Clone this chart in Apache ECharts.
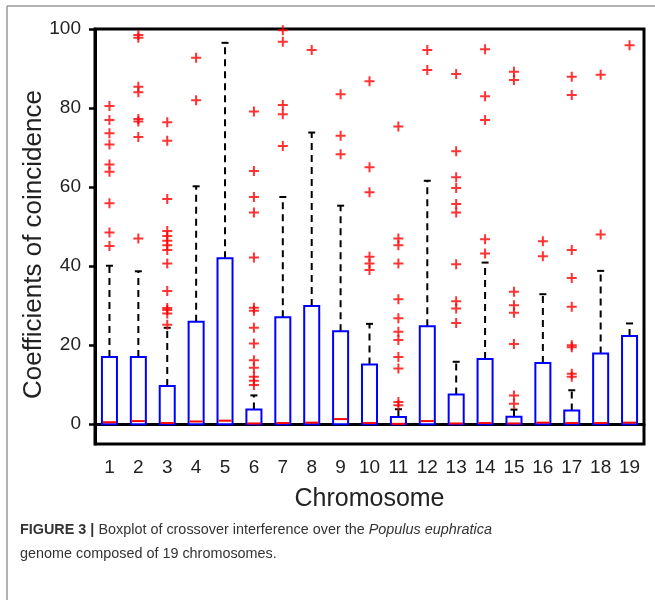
<!DOCTYPE html>
<html>
<head>
<meta charset="utf-8">
<style>
  html, body { margin: 0; padding: 0; background: #fff; }
  #chart-container { width: 655px; height: 600px; }
</style>
<script src="https://cdn.jsdelivr.net/npm/echarts@6/dist/echarts.min.js"></script>
</head>
<body>
<div id="chart-container"></div>
<script>
var dom = document.getElementById("chart-container");
var myChart = echarts.init(dom, null, { renderer: "canvas" });

const chromosomes = ["1", "2", "3", "4", "5", "6", "7", "8", "9", "10",
  "11", "12", "13", "14", "15", "16", "17", "18", "19"];
const yTicks = [0, 20, 40, 60, 80, 100];

const lowWhisker = [0, 0, 0, 0, 0, 0, 0, 0, 0, 0, 0, 0, 0, 0, 0, 0, 0, 0, 0];
const q1 = [0, 0, 0, 0, 0, 0, 0, 0, 0, 0, 0, 0, 0, 0, 0, 0, 0, 0, 0];
const medians = [0.5, 0.8, 0.3, 0.7, 0.9, 0.2, 0.3, 0.4, 1.3, 0.3,
  0.1, 0.8, 0.2, 0.3, 0.2, 0.4, 0.3, 0.3, 0.4];
const q3 = [17.0, 17.0, 9.7, 25.9, 42.0, 3.7, 27.1, 29.9, 23.5, 15.1,
  1.8, 24.8, 7.5, 16.5, 1.9, 15.5, 3.5, 17.9, 22.3];
const highWhisker = [40.1, 38.7, 24.4, 60.2, 96.5, 7.3, 57.5, 73.8, 55.3, 25.4,
  3.8, 61.6, 15.8, 40.9, 3.7, 32.9, 8.6, 38.8, 25.5];

const outliers = [
  [80.5, 77.0, 73.6, 70.8, 65.7, 63.9, 55.9, 48.5, 45.1],
  [98.5, 97.8, 85.4, 84.0, 77.2, 76.6, 72.7, 47.0],
  [76.4, 71.7, 57.0, 48.9, 47.6, 46.4, 45.3, 44.1, 40.7, 33.7, 29.4, 28.9, 28.0, 25.2],
  [92.7, 82.0],
  [],
  [79.1, 64.1, 57.5, 53.6, 42.2, 29.5, 28.7, 24.4, 20.4, 16.2, 14.3, 12.0, 11.0, 9.9],
  [99.7, 96.8, 80.8, 78.4, 70.4],
  [94.7],
  [83.5, 73.0, 68.3],
  [86.8, 65.0, 58.7, 42.4, 40.7, 39.0],
  [75.3, 47.0, 45.3, 40.7, 31.6, 26.8, 23.4, 21.3, 17.0, 14.1, 5.6, 4.8],
  [94.7, 89.6],
  [88.6, 69.1, 62.5, 59.8, 55.7, 53.6, 40.5, 31.1, 29.3, 25.6],
  [94.9, 83.0, 77.0, 46.8, 43.2],
  [89.2, 87.1, 33.5, 30.1, 28.2, 20.3, 7.3, 5.2],
  [46.3, 42.5],
  [87.9, 83.3, 44.1, 37.0, 29.7, 20.0, 19.5, 12.8, 12.0],
  [88.4, 48.0],
  [95.9],
];

const boxData = chromosomes.map(function (name, i) {
  return [i, lowWhisker[i], q1[i], medians[i], q3[i], highWhisker[i]];
});

const outlierData = [];
outliers.forEach(function (vals, i) {
  vals.forEach(function (v) {
    outlierData.push([i, v]);
  });
});

const FONT = "'Liberation Sans', Arial, Helvetica, sans-serif";
const CROSS = "path://M4,0H6V4H10V6H6V10H4V6H0V4H4Z";

function renderBox(params, api) {
  const x = api.value(0);
  const pMin = api.coord([x, api.value(1)]);
  const pQ1 = api.coord([x, api.value(2)]);
  const pMed = api.coord([x, api.value(3)]);
  const pQ3 = api.coord([x, api.value(4)]);
  const pMax = api.coord([x, api.value(5)]);
  const half = api.size([1, 0])[0] * 0.26;
  const cap = 3.5;
  const cx = pMed[0];

  const dashed = { stroke: "#000", lineWidth: 2, lineDash: [7, 5] };
  const solid = { stroke: "#000", lineWidth: 2 };

  return {
    type: "group",
    children: [
      { type: "line", shape: { x1: cx, y1: pQ3[1], x2: cx, y2: pMax[1] }, style: dashed },
      { type: "line", shape: { x1: cx, y1: pQ1[1], x2: cx, y2: pMin[1] }, style: dashed },
      { type: "line", shape: { x1: cx - cap, y1: pMax[1], x2: cx + cap, y2: pMax[1] }, style: solid },
      {
        type: "rect",
        shape: { x: cx - half, y: pQ3[1], width: half * 2, height: pQ1[1] - pQ3[1] },
        style: { fill: "#fff", stroke: "#0000ff", lineWidth: 2 },
      },
      {
        type: "line",
        shape: { x1: cx - half + 1, y1: pMed[1], x2: cx + half - 1, y2: pMed[1] },
        style: { stroke: "#ff0000", lineWidth: 2 },
      },
    ],
  };
}

var option = {
  backgroundColor: "#fff",
  animation: false,
  textStyle: { fontFamily: FONT },
  grid: {
    left: 95,
    right: 11,
    top: 29,
    bottom: 156,
    show: true,
    borderColor: "#000",
    borderWidth: 3,
  },
  xAxis: {
    type: "category",
    data: chromosomes,
    boundaryGap: true,
    name: "Chromosome",
    nameLocation: "middle",
    nameGap: 43,
    nameMoveOverlap: false,
    nameTextStyle: { fontSize: 25, color: "#222", fontFamily: FONT },
    axisLine: { lineStyle: { color: "#000", width: 3 } },
    axisTick: { alignWithLabel: true, length: 6, lineStyle: { color: "#000", width: 2.5 } },
    axisLabel: { fontSize: 19, color: "#222", margin: 14, fontFamily: FONT },
    splitLine: { show: false },
  },
  yAxis: {
    type: "value",
    min: -5,
    max: 100,
    name: "Coefficients of coincidence",
    nameLocation: "middle",
    nameGap: 48,
    nameMoveOverlap: false,
    nameTextStyle: { fontSize: 26, color: "#222", fontFamily: FONT, padding: [0, 16, 0, 0] },
    axisLine: { show: true, lineStyle: { color: "#000", width: 3 } },
    axisTick: { show: true, length: 6, customValues: yTicks, lineStyle: { color: "#000", width: 2.5 } },
    axisLabel: { fontSize: 19, color: "#222", margin: 14, customValues: yTicks, fontFamily: FONT },
    splitLine: { show: false },
  },
  graphic: [
    { type: "line", shape: { x1: 7, y1: 6, x2: 655, y2: 6 }, style: { stroke: "#999", lineWidth: 1.5 } },
    { type: "line", shape: { x1: 7, y1: 6, x2: 7, y2: 600 }, style: { stroke: "#999", lineWidth: 1.5 } },
    {
      type: "text",
      left: 20,
      top: 518,
      style: {
        text: "{b|FIGURE 3 |} Boxplot of crossover interference over the {i|Populus euphratica}\ngenome composed of 19 chromosomes.",
        font: "14.4px " + FONT,
        fill: "#333",
        lineHeight: 24,
        rich: {
          b: { fontWeight: "bold", fontSize: 14.4, fill: "#333", fontFamily: FONT },
          i: { fontStyle: "italic", fontSize: 14.4, fill: "#333", fontFamily: FONT },
        },
      },
    },
  ],
  series: [
    {
      type: "custom",
      name: "box",
      renderItem: renderBox,
      encode: { x: 0, y: [1, 2, 3, 4, 5] },
      data: boxData,
      z: 2,
    },
    {
      type: "scatter",
      name: "outliers",
      symbol: CROSS,
      symbolSize: 10,
      itemStyle: { color: "#ff0000" },
      data: outlierData,
      z: 3,
    },
  ],
};

myChart.setOption(option);
window.addEventListener("resize", myChart.resize);
</script>
</body>
</html>
